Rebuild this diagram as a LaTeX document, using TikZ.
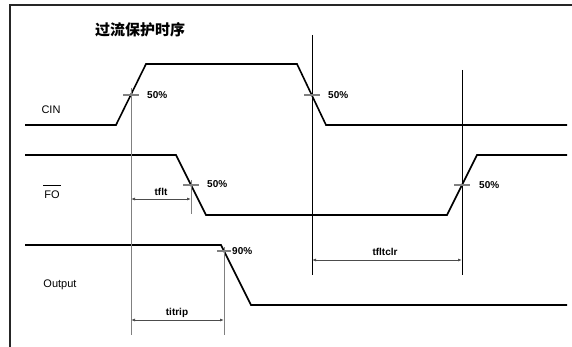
\documentclass[tikz,border=0pt]{standalone}
\usepackage{fontspec}
\setmainfont{Liberation Sans}
\newfontfamily\cjk{Noto Sans CJK SC}
\usetikzlibrary{arrows.meta}
\begin{document}
\begin{tikzpicture}[x=1pt,y=-1pt,
  frame/.style={line width=1.8pt, black!85},
  sig/.style={line width=1.6pt, line join=miter},
  refgray/.style={line width=1pt, gray},
  refblack/.style={line width=0.8pt, black},
  tickmark/.style={line width=1.2pt, gray},
  bar/.style={line width=1pt, black},
  dim/.style={line width=0.8pt, black!70, {Latex[length=4pt,width=3pt]}-{Latex[length=4pt,width=3pt]}},
  lbl/.style={font=\fontsize{11}{13}\selectfont, inner sep=0pt},
  pct/.style={font=\bfseries\fontsize{10}{12}\selectfont, inner sep=0pt, anchor=west},
  dimlbl/.style={font=\bfseries\fontsize{10}{12}\selectfont, inner sep=0pt},
]
\useasboundingbox (0,0) rectangle (572,347);
% frame
\coordinate (fb) at (10,347);
\coordinate (ftl) at (10,5);
\coordinate (fr) at (572,5);
\draw[frame] (fb) -- (ftl) -- (fr);

% title
\node[inner sep=0pt, font=\cjk\bfseries\fontsize{15}{17}\selectfont] (title) at (140,30) {过流保护时序};

% signal labels
\node[lbl] (cin) at (51,110) {CIN};
\node[lbl] (fo) at (52,195) {FO};
\draw[bar] ([xshift=-1pt,yshift=5pt]fo.north west) -- ([xshift=1.5pt,yshift=5pt]fo.north east);
\node[lbl] (out) at (60,285) {Output};

% CIN waveform
\coordinate (c0) at (25,125);
\coordinate (c1) at (116,125);
\coordinate (c2) at (146,64);
\coordinate (c3) at (297,64);
\coordinate (c4) at (326,125);
\coordinate (c5) at (567,125);
\draw[sig] (c0) -- (c1) -- (c2) -- (c3) -- (c4) -- (c5);

% FO waveform
\coordinate (f0) at (25,155);
\coordinate (f1) at (176,155);
\coordinate (f2) at (206,215);
\coordinate (f3) at (447,215);
\coordinate (f4) at (477,155);
\coordinate (f5) at (567,155);
\draw[sig] (f0) -- (f1) -- (f2) -- (f3) -- (f4) -- (f5);

% Output waveform
\coordinate (o0) at (25,245);
\coordinate (o1) at (221,245);
\coordinate (o2) at (251,305);
\coordinate (o3) at (567,305);
\draw[sig] (o0) -- (o1) -- (o2) -- (o3);

% reference verticals
\coordinate (v1t) at (131,88);   \coordinate (v1b) at (131,335);
\coordinate (v2t) at (191,180);  \coordinate (v2b) at (191,214);
\coordinate (v3t) at (224,247);  \coordinate (v3b) at (224,335);
\coordinate (v4t) at (312,35);   \coordinate (v4b) at (312,275);
\coordinate (v5t) at (462,70);   \coordinate (v5b) at (462,275);
\draw[refgray] (v1t) -- (v1b);
\draw[refgray] (v2t) -- (v2b);
\draw[refgray] (v3t) -- (v3b);
\draw[refblack] (v4t) -- (v4b);
\draw[refblack] (v5t) -- (v5b);

% tick marks
\coordinate (t1a) at (123,95);  \coordinate (t1b) at (139,95);
\coordinate (t2a) at (304,95);  \coordinate (t2b) at (320,95);
\coordinate (t3a) at (183,185); \coordinate (t3b) at (199,185);
\coordinate (t4a) at (454,185); \coordinate (t4b) at (470,185);
\coordinate (t5a) at (217,251); \coordinate (t5b) at (231,251);
\draw[tickmark] (t1a) -- (t1b);
\draw[tickmark] (t2a) -- (t2b);
\draw[tickmark] (t3a) -- (t3b);
\draw[tickmark] (t4a) -- (t4b);
\draw[tickmark] (t5a) -- (t5b);

% percentage labels
\node[pct] (p1) at (147,95) {50\%};
\node[pct] (p2) at (328,95) {50\%};
\node[pct] (p3) at (207,184) {50\%};
\node[pct] (p4) at (479,185) {50\%};
\node[pct] (p5) at (232,251) {90\%};

% dimension arrows
\coordinate (d1a) at (131,199); \coordinate (d1b) at (191,199);
\draw[dim] (d1a) -- (d1b);
\node[dimlbl] (tflt) at (161,192) {tflt};

\coordinate (d2a) at (131,320); \coordinate (d2b) at (224,320);
\draw[dim] (d2a) -- (d2b);
\node[dimlbl] (titrip) at (177,313) {titrip};

\coordinate (d3a) at (312,260); \coordinate (d3b) at (462,260);
\draw[dim] (d3a) -- (d3b);
\node[dimlbl] (tfltclr) at (385,252) {tfltclr};
\end{tikzpicture}
\end{document}
